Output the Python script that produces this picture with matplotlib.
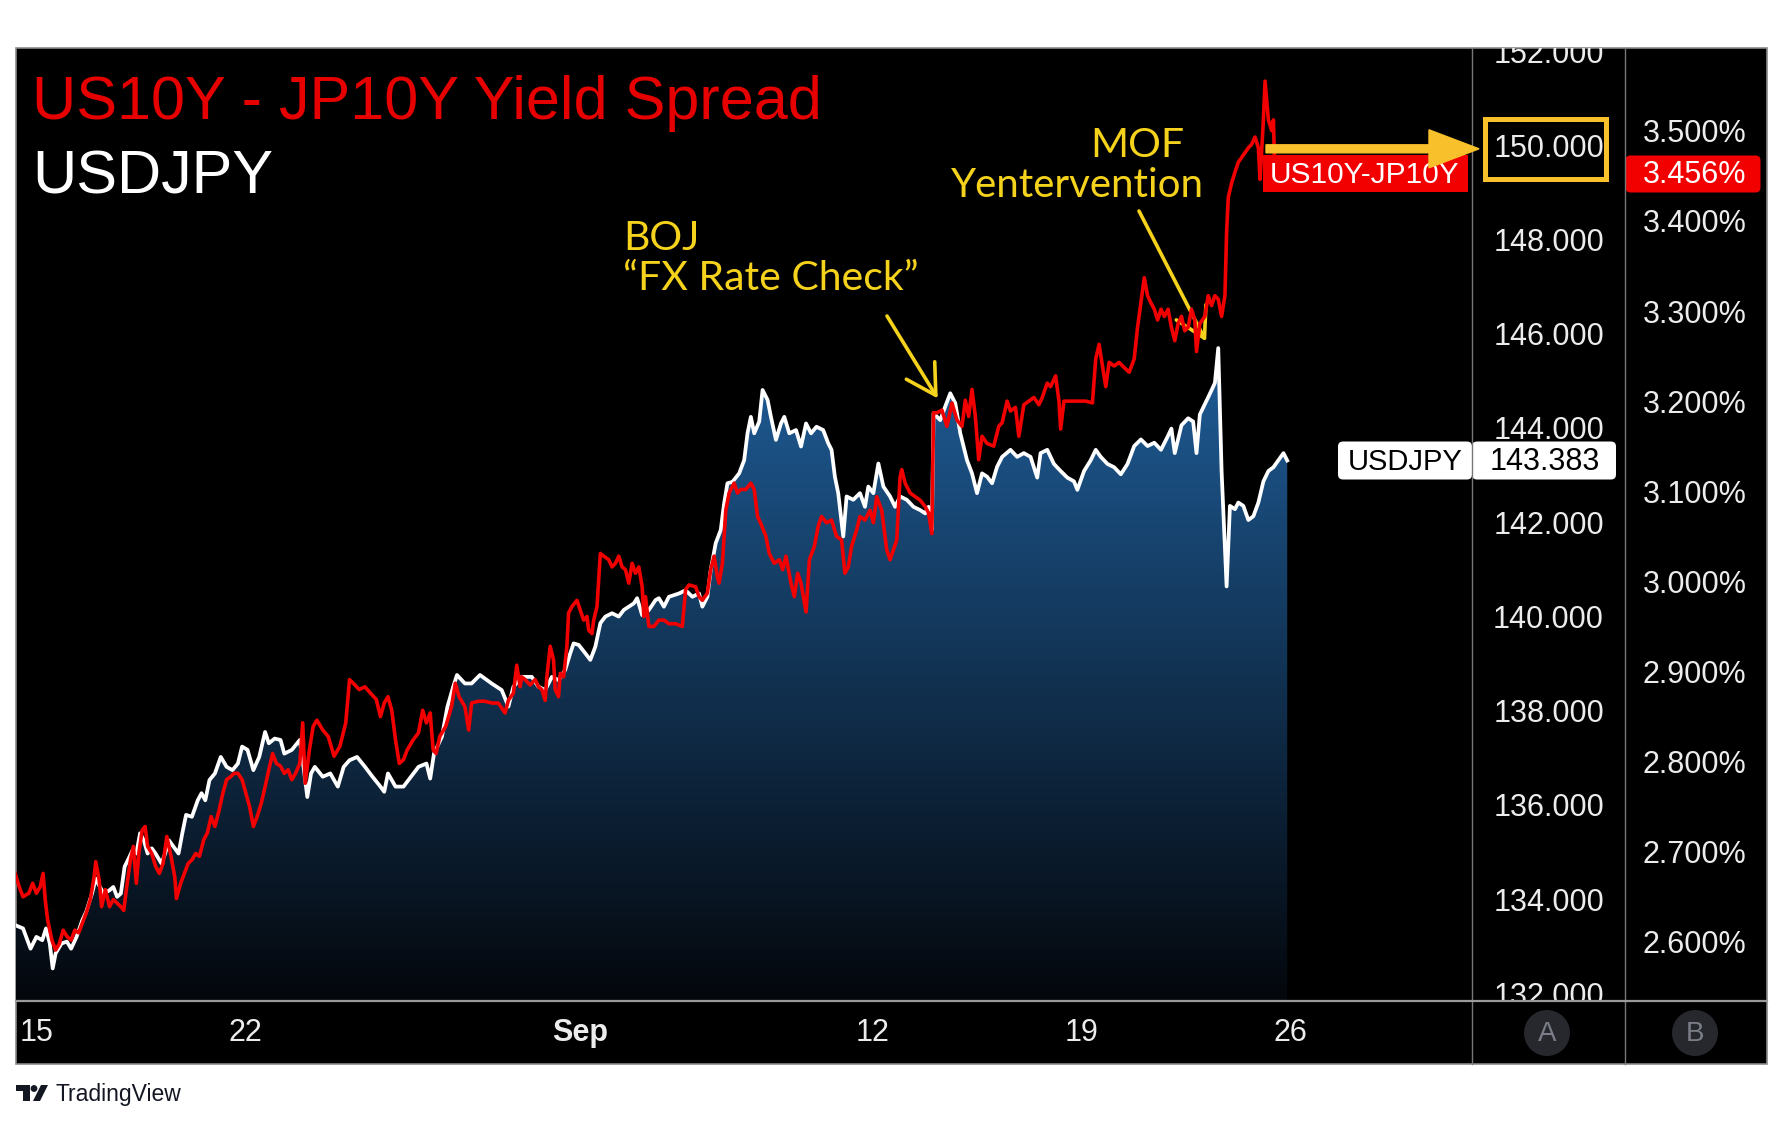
import numpy as np
import matplotlib
matplotlib.use("Agg")
import matplotlib.pyplot as plt
from matplotlib.patches import Rectangle, FancyBboxPatch, Polygon, Circle, FancyArrow

plt.rcParams['font.family'] = ['Liberation Sans', 'DejaVu Sans']

# ---------------- data (x = trading days since Aug 15) ----------------
usd_t = [-0.51, -0.32, -0.14, 0.00, 0.14, 0.23, 0.32, 0.39, 0.46, 0.60, 0.73, 0.83, 0.96, 1.10, 1.19,
         1.33, 1.42, 1.52, 1.61, 1.75, 1.84, 1.93, 2.02, 2.11, 2.21, 2.30, 2.39, 2.48, 2.57, 2.66,
         2.76, 2.85, 2.99, 3.08, 3.17, 3.31, 3.40, 3.49, 3.58, 3.72, 3.86, 3.95, 4.04, 4.14, 4.27,
         4.41, 4.55, 4.69, 4.82, 4.92, 5.05, 5.19, 5.33, 5.47, 5.56, 5.70, 5.84, 5.93, 6.11, 6.30,
         6.39, 6.48, 6.57, 6.66, 6.85, 7.03, 7.21, 7.35, 7.49, 7.67, 7.86, 8.04, 8.23, 8.32, 8.41,
         8.59, 8.78, 8.96, 9.14, 9.33, 9.42, 9.51, 9.70, 9.83, 9.97, 10.06, 10.25, 10.41, 10.61, 10.89,
         11.13, 11.29, 11.41, 11.61, 11.85, 12.01, 12.17, 12.33, 12.49, 12.65, 12.77, 12.85, 12.97, 13.13, 13.25,
         13.37, 13.49, 13.61, 13.77, 13.93, 14.05, 14.17, 14.29, 14.37, 14.49, 14.65, 14.81, 14.89, 15.01, 15.13,
         15.37, 15.53, 15.69, 15.85, 15.93, 16.05, 16.13, 16.25, 16.37, 16.45, 16.53, 16.65, 16.81, 16.93, 17.01,
         17.09, 17.17, 17.29, 17.37, 17.49, 17.57, 17.69, 17.81, 17.89, 18.01, 18.17, 18.29, 18.41, 18.53, 18.66,
         18.82, 18.94, 19.02, 19.10, 19.18, 19.30, 19.38, 19.54, 19.70, 19.82, 19.90, 20.02, 20.14, 20.26, 20.42,
         20.54, 20.66, 20.82, 20.98, 21.14, 21.26, 21.34, 21.42, 21.46, 21.62, 21.74, 21.86, 21.98, 22.10, 22.26,
         22.38, 22.50, 22.62, 22.74, 22.86, 22.98, 23.10, 23.30, 23.46, 23.62, 23.78, 23.94, 24.02, 24.18, 24.34,
         24.50, 24.66, 24.82, 24.90, 25.06, 25.22, 25.34, 25.46, 25.62, 25.78, 25.94, 26.10, 26.26, 26.42, 26.58,
         26.74, 26.90, 27.07, 27.15, 27.23, 27.39, 27.55, 27.67, 27.75, 27.83, 27.95, 28.07, 28.19, 28.27, 28.35,
         28.47, 28.55, 28.67, 28.75, 28.87, 28.99, 29.11, 29.23, 29.35, 29.47, 29.59, 29.71, 29.83, 29.92]
usd_v = [133.52, 133.45, 133.02, 133.27, 133.20, 133.45, 133.13, 132.60, 132.92, 133.13, 133.17, 133.02, 133.27, 133.63, 133.80,
         134.19, 134.51, 134.33, 134.19, 134.26, 134.33, 134.12, 134.19, 134.76, 134.94, 135.11, 135.04, 135.47, 135.32, 135.04,
         135.15, 135.04, 134.83, 135.04, 135.32, 135.15, 135.04, 135.47, 135.86, 135.82, 136.17, 136.32, 136.17, 136.60, 136.74,
         137.09, 136.88, 136.81, 136.95, 137.31, 137.24, 136.81, 137.09, 137.62, 137.38, 137.48, 137.45, 137.16, 137.24, 137.45,
         136.88, 136.24, 136.74, 136.88, 136.67, 136.74, 136.46, 136.88, 137.02, 137.09, 136.88, 136.67, 136.46, 136.35, 136.74,
         136.46, 136.46, 136.67, 136.88, 136.95, 136.63, 137.16, 137.52, 138.15, 138.58, 138.83, 138.65, 138.65, 138.83, 138.65,
         138.51, 138.16, 138.58, 138.79, 138.79, 138.58, 138.51, 138.79, 138.72, 138.94, 139.29, 139.50, 139.47, 139.29, 139.15,
         139.43, 139.93, 140.07, 140.14, 140.07, 140.21, 140.28, 140.35, 140.46, 140.10, 140.21, 140.42, 140.46, 140.28, 140.49,
         140.56, 140.63, 140.49, 140.56, 140.28, 140.49, 141.06, 141.63, 141.91, 142.47, 142.90, 142.93, 143.11, 143.39, 143.96,
         144.31, 143.96, 144.21, 144.88, 144.67, 144.31, 143.82, 144.17, 144.31, 143.96, 144.03, 143.68, 144.17, 143.96, 144.10,
         144.03, 143.75, 143.61, 143.04, 142.69, 141.77, 142.62, 142.55, 142.69, 142.40, 142.83, 142.69, 143.32, 142.83, 142.62,
         142.40, 142.62, 142.55, 142.40, 142.33, 142.26, 142.40, 141.91, 144.39, 144.24, 144.53, 144.81, 144.60, 143.96, 143.39,
         143.11, 142.69, 143.11, 143.04, 142.90, 143.25, 143.46, 143.61, 143.46, 143.54, 143.46, 143.02, 143.54, 143.61, 143.31,
         143.16, 143.02, 142.94, 142.76, 143.16, 143.39, 143.61, 143.46, 143.31, 143.24, 143.09, 143.31, 143.69, 143.83, 143.69,
         143.76, 143.61, 143.91, 144.06, 143.54, 144.13, 144.28, 144.21, 143.54, 144.36, 144.58, 144.80, 145.03, 145.77, 143.16,
         140.71, 142.42, 142.35, 142.49, 142.42, 142.12, 142.20, 142.49, 142.94, 143.16, 143.24, 143.39, 143.54, 143.383]

spr_t = [-0.51, -0.41, -0.32, -0.18, -0.09, 0.00, 0.09, 0.16, 0.21, 0.27, 0.37, 0.46, 0.55, 0.64, 0.73,
         0.83, 0.92, 1.01, 1.10, 1.19, 1.29, 1.38, 1.42, 1.50, 1.56, 1.65, 1.75, 1.84, 1.93, 2.02,
         2.09, 2.16, 2.25, 2.32, 2.39, 2.45, 2.53, 2.60, 2.66, 2.76, 2.85, 2.94, 3.03, 3.12, 3.22,
         3.31, 3.35, 3.45, 3.54, 3.63, 3.72, 3.81, 3.90, 4.00, 4.09, 4.18, 4.27, 4.37, 4.46, 4.55,
         4.64, 4.73, 4.82, 4.92, 5.01, 5.10, 5.19, 5.28, 5.38, 5.47, 5.56, 5.65, 5.74, 5.84, 5.93,
         6.02, 6.11, 6.20, 6.30, 6.37, 6.43, 6.53, 6.62, 6.71, 6.85, 6.98, 7.12, 7.26, 7.40, 7.49,
         7.58, 7.72, 7.86, 7.99, 8.13, 8.23, 8.32, 8.41, 8.50, 8.59, 8.68, 8.78, 8.87, 9.01, 9.14,
         9.24, 9.33, 9.42, 9.49, 9.56, 9.65, 9.79, 9.93, 10.02, 10.11, 10.25, 10.34, 10.41, 10.57, 10.73,
         10.89, 11.05, 11.21, 11.29, 11.41, 11.49, 11.57, 11.61, 11.69, 11.81, 11.93, 12.01, 12.09, 12.17, 12.21,
         12.29, 12.37, 12.41, 12.49, 12.53, 12.61, 12.69, 12.73, 12.81, 12.93, 13.01, 13.09, 13.17, 13.21, 13.29,
         13.33, 13.41, 13.49, 13.57, 13.69, 13.77, 13.85, 13.93, 14.01, 14.09, 14.17, 14.25, 14.33, 14.41, 14.49,
         14.53, 14.57, 14.65, 14.77, 14.89, 15.01, 15.13, 15.29, 15.45, 15.53, 15.61, 15.77, 15.85, 15.93, 16.05,
         16.13, 16.21, 16.29, 16.33, 16.41, 16.49, 16.57, 16.69, 16.77, 16.85, 16.97, 17.09, 17.17, 17.25, 17.33,
         17.45, 17.53, 17.65, 17.77, 17.85, 17.93, 18.05, 18.13, 18.21, 18.29, 18.41, 18.49, 18.61, 18.70, 18.78,
         18.90, 19.02, 19.14, 19.26, 19.34, 19.42, 19.50, 19.62, 19.70, 19.82, 19.94, 20.02, 20.10, 20.22, 20.34,
         20.42, 20.50, 20.58, 20.66, 20.70, 20.78, 20.90, 21.02, 21.14, 21.26, 21.34, 21.42, 21.46, 21.54, 21.66,
         21.78, 21.90, 22.02, 22.14, 22.22, 22.30, 22.38, 22.46, 22.54, 22.62, 22.74, 22.90, 23.02, 23.10, 23.22,
         23.30, 23.42, 23.50, 23.62, 23.74, 23.86, 23.98, 24.06, 24.18, 24.26, 24.38, 24.46, 24.50, 24.58, 24.70,
         24.90, 25.10, 25.26, 25.34, 25.42, 25.50, 25.58, 25.66, 25.78, 25.90, 25.98, 26.14, 26.26, 26.34, 26.42,
         26.50, 26.58, 26.66, 26.74, 26.82, 26.90, 26.98, 27.07, 27.15, 27.23, 27.31, 27.39, 27.47, 27.55, 27.63,
         27.71, 27.75, 27.83, 27.95, 28.03, 28.11, 28.19, 28.27, 28.35, 28.43, 28.47, 28.51, 28.59, 28.67, 28.75,
         28.87, 28.99, 29.07, 29.15, 29.23, 29.27, 29.35, 29.39, 29.47, 29.55, 29.59, 29.63, 29.67, 29.80, 29.92]
spr_v = [2.680, 2.665, 2.654, 2.658, 2.669, 2.658, 2.665, 2.680, 2.651, 2.628, 2.606, 2.595, 2.602, 2.617, 2.610,
         2.606, 2.617, 2.614, 2.625, 2.636, 2.651, 2.676, 2.693, 2.673, 2.643, 2.662, 2.643, 2.651, 2.647, 2.643,
         2.639, 2.665, 2.695, 2.710, 2.669, 2.702, 2.728, 2.732, 2.710, 2.702, 2.688, 2.680, 2.691, 2.721, 2.699,
         2.676, 2.652, 2.669, 2.680, 2.691, 2.695, 2.702, 2.699, 2.717, 2.725, 2.743, 2.732, 2.750, 2.769, 2.784,
         2.787, 2.791, 2.791, 2.784, 2.769, 2.754, 2.732, 2.743, 2.758, 2.776, 2.795, 2.813, 2.802, 2.799, 2.791,
         2.795, 2.784, 2.791, 2.802, 2.847, 2.780, 2.817, 2.843, 2.850, 2.839, 2.832, 2.810, 2.821, 2.847, 2.895,
         2.891, 2.884, 2.887, 2.880, 2.873, 2.854, 2.869, 2.876, 2.861, 2.828, 2.802, 2.806, 2.817, 2.828, 2.836,
         2.861, 2.847, 2.858, 2.817, 2.813, 2.832, 2.843, 2.865, 2.891, 2.876, 2.865, 2.839, 2.869, 2.871, 2.871,
         2.869, 2.869, 2.858, 2.872, 2.880, 2.911, 2.887, 2.898, 2.895, 2.889, 2.895, 2.887, 2.884, 2.872, 2.898,
         2.932, 2.917, 2.884, 2.876, 2.902, 2.898, 2.932, 2.969, 2.976, 2.983, 2.972, 2.961, 2.965, 2.950, 2.946,
         2.961, 2.976, 3.035, 3.032, 3.028, 3.020, 3.024, 3.032, 3.020, 3.017, 3.002, 3.024, 3.013, 3.020, 2.998,
         2.965, 2.987, 2.954, 2.954, 2.961, 2.961, 2.957, 2.957, 2.954, 2.995, 3.000, 2.998, 2.987, 2.983, 2.991,
         3.017, 3.032, 3.009, 3.002, 3.024, 3.083, 3.102, 3.113, 3.102, 3.106, 3.106, 3.113, 3.106, 3.076, 3.068,
         3.054, 3.035, 3.024, 3.028, 3.017, 3.032, 3.002, 2.987, 3.013, 3.002, 2.970, 3.028, 3.043, 3.065, 3.076,
         3.069, 3.072, 3.054, 3.050, 3.013, 3.020, 3.043, 3.061, 3.076, 3.072, 3.083, 3.069, 3.098, 3.083, 3.039,
         3.028, 3.039, 3.050, 3.120, 3.128, 3.113, 3.102, 3.098, 3.094, 3.087, 3.080, 3.057, 3.191, 3.191, 3.194,
         3.176, 3.202, 3.183, 3.176, 3.205, 3.187, 3.217, 3.187, 3.139, 3.165, 3.157, 3.154, 3.176, 3.180, 3.204,
         3.193, 3.197, 3.165, 3.200, 3.204, 3.208, 3.200, 3.208, 3.224, 3.220, 3.232, 3.204, 3.173, 3.204, 3.204,
         3.204, 3.204, 3.202, 3.251, 3.267, 3.243, 3.220, 3.247, 3.243, 3.247, 3.243, 3.236, 3.251, 3.286, 3.313,
         3.341, 3.321, 3.313, 3.306, 3.294, 3.306, 3.298, 3.306, 3.286, 3.271, 3.290, 3.298, 3.282, 3.286, 3.306,
         3.294, 3.259, 3.290, 3.298, 3.321, 3.310, 3.321, 3.317, 3.298, 3.321, 3.391, 3.430, 3.446, 3.458, 3.469,
         3.477, 3.485, 3.489, 3.497, 3.485, 3.450, 3.516, 3.559, 3.516, 3.504, 3.516, 3.446, 3.438, 3.450, 3.456]

date_ticks = [0, 5, 13, 20, 25, 30]
date_labels = ["15", "22", "Sep", "12", "19", "26"]
price_ticks = [132, 134, 136, 138, 140, 142, 144, 146, 148, 150, 152]
pct_ticks = [2.6, 2.7, 2.8, 2.9, 3.0, 3.1, 3.2, 3.3, 3.4, 3.5]

title_spread = "US10Y - JP10Y Yield Spread"
title_fx = "USDJPY"
spread_name = "US10Y-JP10Y"
fx_name = "USDJPY"
boj_text = ["BOJ", "\u201cFX Rate Check\u201d"]
mof_text = ["MOF", "Yentervention"]
boj_point = (21.56, 144.70)
mof_point = (27.98, 145.91)
highlight_level = 150

# ---------------- layout (figure pixels, y from top) ----------------
W, H = 1784, 1125
PL, PR, PT, PB = 16, 1767, 48, 1064
PLOT_R, COL2, AXIS_B = 1472, 1625, 1001
XLIM = (-0.488, 34.34)
YLIM = (131.909, 152.14)
PLIM = (2.5384, 3.5958)

RED = '#f20000'
YEL = '#f5d21c'
ORANGE = '#f8c02a'
LBL = '#ececec'

fig = plt.figure(figsize=(W / 100, H / 100), dpi=100)
fig.patch.set_facecolor('white')


def rect(l, t, r, b):
    return [l / W, 1 - b / H, (r - l) / W, (b - t) / H]


bg = fig.add_axes([0, 0, 1, 1], zorder=0)
bg.set_xlim(0, W); bg.set_ylim(H, 0); bg.axis('off')
bg.add_patch(Rectangle((PL, PT), PR - PL, PB - PT, facecolor='black', edgecolor='#8a8a8a', lw=1.2))

# main price pane
ax = fig.add_axes(rect(PL, PT, PLOT_R, AXIS_B), zorder=2)
ax.set_facecolor('none')
ax.set_xlim(*XLIM); ax.set_ylim(*YLIM)
for s in ax.spines.values():
    s.set_visible(False)
ax.set_xticks([]); ax.set_yticks([])

# gradient area under USDJPY
ut = np.asarray(usd_t); uv = np.asarray(usd_v)
poly = np.column_stack([np.r_[ut[0], ut, ut[-1]], np.r_[YLIM[0], uv, YLIM[0]]])
clip = Polygon(poly, closed=True, facecolor='none', edgecolor='none', transform=ax.transData)
ax.add_patch(clip)
g = np.linspace(0, 1, 256)[:, None, None]
top_c = np.array([31, 93, 152]) / 255.0
bot_c = np.array([4, 7, 12]) / 255.0
img = bot_c + (top_c - bot_c) * g
im = ax.imshow(img, extent=[ut[0], ut[-1], YLIM[0], uv.max()], origin='lower',
               aspect='auto', zorder=1, interpolation='bilinear')
im.set_clip_path(clip)
ax.set_xlim(*XLIM); ax.set_ylim(*YLIM)
ax.plot(usd_t, usd_v, color='white', lw=2.7, zorder=3, solid_joinstyle='round')

ax2 = ax.twinx()
ax2.set_zorder(3)
ax2.patch.set_visible(False)
ax2.set_ylim(*PLIM)
for s in ax2.spines.values():
    s.set_visible(False)
ax2.set_yticks([])
ax2.plot(spr_t, spr_v, color=RED, lw=2.6, zorder=3, solid_joinstyle='round')

# price scale column
axp = fig.add_axes(rect(PLOT_R, PT, COL2, AXIS_B), zorder=2)
axp.set_xlim(0, 1); axp.set_ylim(*YLIM); axp.axis('off')
for v in price_ticks:
    axp.text(0.5, v, f"{v:.3f}", color=LBL, fontsize=22, ha='center', va='center', clip_on=True)

# percent scale column
axq = fig.add_axes(rect(COL2, PT, PR, AXIS_B), zorder=2)
axq.set_xlim(0, 1); axq.set_ylim(*PLIM); axq.axis('off')
for v in pct_ticks:
    axq.text(0.49, v, f"{v:.3f}%", color=LBL, fontsize=22, ha='center', va='center', clip_on=True)

# time axis
axt = fig.add_axes(rect(PL, AXIS_B, PLOT_R, PB), zorder=2)
axt.set_xlim(*XLIM); axt.set_ylim(0, 1); axt.axis('off')
for tk, lb in zip(date_ticks, date_labels):
    axt.text(tk, 0.49, lb, color=LBL, fontsize=22, ha='center', va='center',
             fontweight='bold' if lb.isalpha() else 'normal')

# ---------------- overlay ----------------
ov = fig.add_axes([0, 0, 1, 1], zorder=10)
ov.set_xlim(0, W); ov.set_ylim(H, 0); ov.axis('off')
ov.patch.set_alpha(0)


def ypx(axis, v):
    return H - axis.transData.transform((0, v))[1]


# separators
ov.plot([PLOT_R, PLOT_R], [PT, PB], color='#777777', lw=1.0, zorder=5)
ov.plot([COL2, COL2], [PT, PB], color='#777777', lw=1.0, zorder=5)
ov.plot([PL, PR], [AXIS_B, AXIS_B], color='#9a9a9a', lw=1.6, zorder=5)

# A / B buttons
for cx, lb in [(1547, 'A'), (1695, 'B')]:
    ov.add_patch(Circle((cx, 1033), 23, facecolor='#26282e', edgecolor='none', zorder=4))
    ov.text(cx, 1034, lb, color='#7b7e88', fontsize=20, ha='center', va='center', zorder=5)

# last-value labels
ys = ypx(ax2, spr_v[-1])
ov.add_patch(Rectangle((1263, ys - 18.5), 205, 37, facecolor=RED, edgecolor='none', zorder=3))
ov.text(1365, ys + 1, spread_name, color='white', fontsize=21.5, ha='center', va='center', zorder=4)
ov.add_patch(FancyBboxPatch((COL2 + 3, ys - 16), 130, 32, boxstyle='round,pad=2.5,rounding_size=5',
                            facecolor=RED, edgecolor='none', zorder=3))
ov.text(1695, ys + 1, f"{spr_v[-1]:.3f}%", color='white', fontsize=22, ha='center', va='center', zorder=4)

yu = ypx(ax, usd_v[-1])
ov.add_patch(FancyBboxPatch((1341, yu - 16), 128, 32, boxstyle='round,pad=3,rounding_size=5',
                            facecolor='white', edgecolor='none', zorder=3))
ov.add_patch(FancyBboxPatch((1475, yu - 16), 138, 32, boxstyle='round,pad=3,rounding_size=5',
                            facecolor='white', edgecolor='none', zorder=3))
ov.text(1405, yu + 1, fx_name, color='black', fontsize=21, ha='center', va='center', zorder=4)
ov.text(1545, yu + 1, f"{usd_v[-1]:.3f}", color='black', fontsize=22, ha='center', va='center', zorder=4)

# highlight of the 150 level
yh = ypx(ax, highlight_level)
ov.add_patch(Rectangle((1485, yh - 30), 121, 60, facecolor='none', edgecolor=ORANGE, lw=3.6, zorder=6))
ov.add_patch(FancyArrow(1266, yh, 213, 0, width=8, head_width=38, head_length=50,
                        length_includes_head=True, color=ORANGE, zorder=6))

# titles
ov.text(32, 119.5, title_spread, color='#e60000', fontsize=44, va='baseline', ha='left', zorder=6)
ov.text(32, 193.4, title_fx, color='white', fontsize=44, va='baseline', ha='left', zorder=6)

# annotations
afont = ['Lato', 'DejaVu Sans']
ov.text(623, 250, boj_text[0], color=YEL, fontsize=29.5, family=afont, va='baseline', zorder=6)
ov.text(623, 290, boj_text[1], color=YEL, fontsize=29.5, family=afont, va='baseline', zorder=6)
ov.text(1090, 157, mof_text[0], color=YEL, fontsize=29.5, family=afont, va='baseline', zorder=6)
ov.text(951, 197, mof_text[1], color=YEL, fontsize=29, family=afont, va='baseline', zorder=6)

arrow_kw = dict(arrowstyle='->,head_length=0.7,head_width=0.4', color=YEL, lw=2.6,
                shrinkA=0, shrinkB=0, mutation_scale=30)
ax.annotate('', xy=boj_point, xycoords='data', xytext=(887, H - 316), textcoords='figure pixels',
            arrowprops=arrow_kw, zorder=6, annotation_clip=False)
ax.annotate('', xy=mof_point, xycoords='data', xytext=(1139, H - 211), textcoords='figure pixels',
            arrowprops=arrow_kw, zorder=6, annotation_clip=False)

# TradingView footer
DARK = '#131722'
ov.add_patch(Rectangle((16, 1085), 14, 6, facecolor=DARK, edgecolor='none'))
ov.add_patch(Rectangle((23, 1085), 7, 16, facecolor=DARK, edgecolor='none'))
ov.add_patch(Circle((34, 1088.5), 3.4, facecolor=DARK, edgecolor='none'))
ov.add_patch(Polygon([(33, 1101), (40, 1101), (48, 1085), (41, 1085)], closed=True,
                     facecolor=DARK, edgecolor='none'))
ov.text(56, 1101, "TradingView", color=DARK, fontsize=16.5, va='baseline', ha='left')

fig.savefig('out.png', dpi=100, facecolor=fig.get_facecolor())
